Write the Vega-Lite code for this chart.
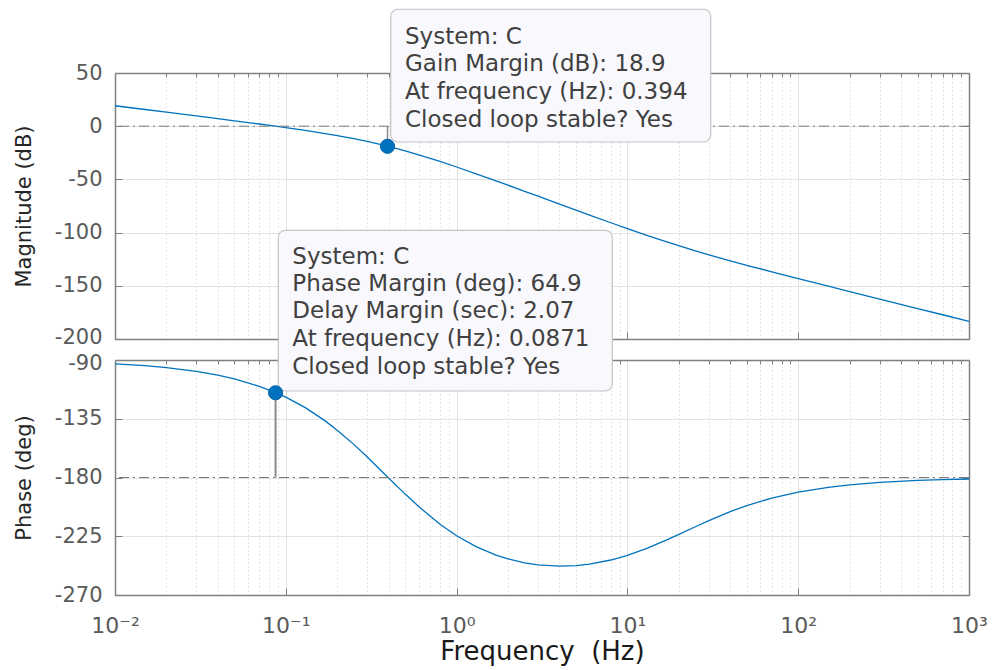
{
  "$schema": "https://vega.github.io/schema/vega-lite/v6.json",
  "background": "white",
  "padding": {"left": 13, "top": 8, "right": 5, "bottom": 5},
  "bounds": "flush",
  "spacing": 21,
  "config": {
    "view": {"stroke": null},
    "font": "DejaVu Sans",
    "axis": {
      "labelFont": "DejaVu Sans",
      "titleFont": "DejaVu Sans",
      "labelColor": "#5a5a5a",
      "titleColor": "#262626",
      "titleFontWeight": "normal",
      "domainColor": "#808080",
      "domainWidth": 1.5,
      "tickColor": "#808080",
      "tickWidth": 1,
      "gridColor": "#e2e2e2",
      "gridWidth": 1,
      "labelOverlap": false,
      "labelFlush": false
    }
  },
  "datasets": {
    "bode": [
      {"f": 0.01, "mag": 19.22, "phase": -92.91},
      {"f": 0.015, "mag": 15.69, "phase": -94.36},
      {"f": 0.02, "mag": 13.18, "phase": -95.82},
      {"f": 0.03, "mag": 9.63, "phase": -98.71},
      {"f": 0.04, "mag": 7.09, "phase": -101.6},
      {"f": 0.05, "mag": 5.1, "phase": -104.47},
      {"f": 0.07, "mag": 2.05, "phase": -110.16},
      {"f": 0.0871, "mag": 0.0, "phase": -115.0},
      {"f": 0.1, "mag": -1.33, "phase": -118.48},
      {"f": 0.13, "mag": -3.97, "phase": -126.51},
      {"f": 0.17, "mag": -6.9, "phase": -136.63},
      {"f": 0.2, "mag": -8.83, "phase": -143.74},
      {"f": 0.25, "mag": -11.73, "phase": -154.63},
      {"f": 0.3, "mag": -14.36, "phase": -164.3},
      {"f": 0.394, "mag": -18.8, "phase": -179.6},
      {"f": 0.5, "mag": -23.2, "phase": -192.71},
      {"f": 0.6, "mag": -26.88, "phase": -202.28},
      {"f": 0.8, "mag": -33.16, "phase": -215.79},
      {"f": 1, "mag": -38.35, "phase": -224.62},
      {"f": 1.3, "mag": -44.7, "phase": -232.99},
      {"f": 1.7, "mag": -51.38, "phase": -239.44},
      {"f": 2, "mag": -55.48, "phase": -242.39},
      {"f": 2.5, "mag": -61.16, "phase": -245.35},
      {"f": 3, "mag": -65.81, "phase": -246.9},
      {"f": 4, "mag": -73.18, "phase": -247.87},
      {"f": 5, "mag": -78.88, "phase": -247.44},
      {"f": 6, "mag": -83.51, "phase": -246.32},
      {"f": 8, "mag": -90.73, "phase": -243.2},
      {"f": 10, "mag": -96.23, "phase": -239.64},
      {"f": 13, "mag": -102.52, "phase": -234.31},
      {"f": 17, "mag": -108.71, "phase": -227.84},
      {"f": 20, "mag": -112.32, "phase": -223.61},
      {"f": 25, "mag": -117.08, "phase": -217.7},
      {"f": 30, "mag": -120.82, "phase": -212.98},
      {"f": 40, "mag": -126.47, "phase": -206.13},
      {"f": 50, "mag": -130.69, "phase": -201.5},
      {"f": 70, "mag": -136.85, "phase": -195.76},
      {"f": 100, "mag": -143.23, "phase": -191.19},
      {"f": 150, "mag": -150.37, "phase": -187.52},
      {"f": 200, "mag": -155.41, "phase": -185.66},
      {"f": 300, "mag": -162.47, "phase": -183.78},
      {"f": 500, "mag": -171.36, "phase": -182.27},
      {"f": 700, "mag": -177.21, "phase": -181.63},
      {"f": 1000, "mag": -183.41, "phase": -181.14}
    ],
    "gm": [{"f": 0.394, "mag": -18.9, "ref": 0}],
    "pm": [{"f": 0.0871, "phase": -115.1, "ref": -180}],
    "box1": [{"f1": 0.4113, "f2": 30.74, "top": 109.9, "bottom": -14.85}],
    "box2": [{"f1": 0.09039, "f2": 8.157, "top": 9.34, "bottom": -113.74}],
    "text1": [
      {"f": 0.4986, "y": 77.54, "label": "System: C"},
      {"f": 0.4986, "y": 51.88, "label": "Gain Margin (dB): 18.9"},
      {"f": 0.4986, "y": 25.28, "label": "At frequency (Hz): 0.394"},
      {"f": 0.4986, "y": -0.75, "label": "Closed loop stable? Yes"}
    ],
    "text2": [
      {"f": 0.10916, "y": -16.24, "label": "System: C"},
      {"f": 0.10916, "y": -37.15, "label": "Phase Margin (deg): 64.9"},
      {"f": 0.10916, "y": -58.06, "label": "Delay Margin (sec): 2.07"},
      {"f": 0.10916, "y": -79.28, "label": "At frequency (Hz): 0.0871"},
      {"f": 0.10916, "y": -100.95, "label": "Closed loop stable? Yes"}
    ],
    "zero": [{"v": 0}],
    "m180": [{"v": -180}]
  },
  "vconcat": [
    {
      "width": 854,
      "height": 266,
      "resolve": {"axis": {"x": "independent", "y": "independent"}},
      "layer": [
        {
          "data": {"name": "bode"},
          "mark": {"type": "line", "color": "#0072BD", "strokeWidth": 1.3},
          "encoding": {
            "x": {"field": "f", "type": "quantitative", "scale": {"type": "log", "domain": [0.01, 1000], "nice": false},
              "axis": {"orient": "bottom", "values": [0.01, 0.1, 1, 10, 100, 1000], "labels": false, "title": null, "grid": true, "tickSize": -7}},
            "y": {"field": "mag", "type": "quantitative", "scale": {"domain": [-200, 50], "nice": false, "zero": false},
              "axis": {"orient": "left", "values": [-200, -150, -100, -50, 0, 50], "labelExpr": "'' + datum.value", "title": "Magnitude (dB)", "titleFontSize": 21, "titlePadding": 20, "labelFontSize": 21, "labelPadding": 20, "grid": true, "tickSize": -7,
                "labelOffset": {"condition": {"test": "datum.value == -200", "value": -2}, "value": 0}}}
          }
        },
        {
          "data": {"name": "zero"},
          "mark": {"type": "rule", "color": "#7a7a7a", "strokeWidth": 1, "strokeDash": [10, 4, 2, 4]},
          "encoding": {
            "y": {"field": "v", "type": "quantitative",
              "axis": {"orient": "right", "values": [-200, -150, -100, -50, 0, 50], "labels": false, "title": null, "grid": false, "tickSize": -7}}
          }
        },
        {
          "data": {"name": "gm"},
          "mark": {"type": "rule", "color": "#8c8c8c", "strokeWidth": 1.5},
          "encoding": {
            "x": {"field": "f", "type": "quantitative",
              "axis": {"orient": "top", "values": [0.02, 0.03, 0.04, 0.05, 0.06, 0.07, 0.08, 0.09, 0.2, 0.3, 0.4, 0.5, 0.6, 0.7, 0.8, 0.9, 2, 3, 4, 5, 6, 7, 8, 9, 20, 30, 40, 50, 60, 70, 80, 90, 200, 300, 400, 500, 600, 700, 800, 900], "labels": false, "title": null, "grid": true, "gridDash": [1, 3], "gridColor": "#cccccc", "tickSize": -4}},
            "y": {"field": "mag", "type": "quantitative", "axis": null},
            "y2": {"field": "ref"}
          }
        },
        {
          "data": {"name": "box1"},
          "mark": {"type": "rect", "fill": "#f9f9fd", "stroke": "#c4c4c4", "strokeWidth": 1.2, "cornerRadius": 7},
          "encoding": {
            "x": {"field": "f1", "type": "quantitative", "axis": null},
            "x2": {"field": "f2"},
            "y": {"field": "top", "type": "quantitative", "axis": null},
            "y2": {"field": "bottom"}
          }
        },
        {
          "data": {"name": "text1"},
          "mark": {"type": "text", "align": "left", "baseline": "alphabetic", "fontSize": 23, "color": "#404040", "font": "DejaVu Sans"},
          "encoding": {
            "x": {"field": "f", "type": "quantitative", "axis": null},
            "y": {"field": "y", "type": "quantitative", "axis": null},
            "text": {"field": "label"}
          }
        },
        {
          "data": {"name": "gm"},
          "mark": {"type": "point", "filled": true, "size": 200, "color": "#0072BD", "opacity": 1, "stroke": "#0062a8", "strokeWidth": 1},
          "encoding": {
            "x": {"field": "f", "type": "quantitative", "axis": null},
            "y": {"field": "mag", "type": "quantitative", "axis": null}
          }
        }
      ]
    },
    {
      "width": 854,
      "height": 235,
      "resolve": {"axis": {"x": "independent", "y": "independent"}},
      "layer": [
        {
          "data": {"name": "bode"},
          "mark": {"type": "line", "color": "#0072BD", "strokeWidth": 1.3},
          "encoding": {
            "x": {"field": "f", "type": "quantitative", "scale": {"type": "log", "domain": [0.01, 1000], "nice": false},
              "axis": {"orient": "bottom", "values": [0.01, 0.1, 1, 10, 100, 1000], "title": "Frequency\u00a0 (Hz)", "titleFontSize": 26, "titleColor": "#1a1a1a", "titlePadding": 2, "labelFontSize": 22, "labelPadding": 27, "grid": true, "tickSize": -7,
                "labelExpr": "datum.value < 0.05 ? '10⁻²' : datum.value < 0.5 ? '10⁻¹' : datum.value < 5 ? '10⁰' : datum.value < 50 ? '10¹' : datum.value < 500 ? '10²' : '10³'"}},
            "y": {"field": "phase", "type": "quantitative", "scale": {"domain": [-270, -90], "nice": false, "zero": false},
              "axis": {"orient": "left", "values": [-270, -225, -180, -135, -90], "labelExpr": "'' + datum.value", "title": "Phase (deg)", "titleFontSize": 21, "titlePadding": 20, "labelFontSize": 21, "labelPadding": 20, "grid": true, "tickSize": -7,
                "labelOffset": {"condition": {"test": "datum.value == -90", "value": 3}, "value": 0}}}
          }
        },
        {
          "data": {"name": "m180"},
          "mark": {"type": "rule", "color": "#7a7a7a", "strokeWidth": 1, "strokeDash": [10, 4, 2, 4]},
          "encoding": {
            "y": {"field": "v", "type": "quantitative",
              "axis": {"orient": "right", "values": [-270, -225, -180, -135, -90], "labels": false, "title": null, "grid": false, "tickSize": -7}}
          }
        },
        {
          "data": {"name": "pm"},
          "mark": {"type": "rule", "color": "#8c8c8c", "strokeWidth": 2},
          "encoding": {
            "x": {"field": "f", "type": "quantitative",
              "axis": {"orient": "top", "values": [0.02, 0.03, 0.04, 0.05, 0.06, 0.07, 0.08, 0.09, 0.2, 0.3, 0.4, 0.5, 0.6, 0.7, 0.8, 0.9, 2, 3, 4, 5, 6, 7, 8, 9, 20, 30, 40, 50, 60, 70, 80, 90, 200, 300, 400, 500, 600, 700, 800, 900], "labels": false, "title": null, "grid": true, "gridDash": [1, 3], "gridColor": "#cccccc", "tickSize": -4}},
            "y": {"field": "phase", "type": "quantitative", "axis": null},
            "y2": {"field": "ref"}
          }
        },
        {
          "data": {"name": "box2"},
          "mark": {"type": "rect", "fill": "#f9f9fd", "stroke": "#c4c4c4", "strokeWidth": 1.2, "cornerRadius": 7},
          "encoding": {
            "x": {"field": "f1", "type": "quantitative", "axis": null},
            "x2": {"field": "f2"},
            "y": {"field": "top", "type": "quantitative", "axis": null},
            "y2": {"field": "bottom"}
          }
        },
        {
          "data": {"name": "text2"},
          "mark": {"type": "text", "align": "left", "baseline": "alphabetic", "fontSize": 23, "color": "#404040", "font": "DejaVu Sans"},
          "encoding": {
            "x": {"field": "f", "type": "quantitative", "axis": null},
            "y": {"field": "y", "type": "quantitative", "axis": null},
            "text": {"field": "label"}
          }
        },
        {
          "data": {"name": "pm"},
          "mark": {"type": "point", "filled": true, "size": 200, "color": "#0072BD", "opacity": 1, "stroke": "#0062a8", "strokeWidth": 1},
          "encoding": {
            "x": {"field": "f", "type": "quantitative", "axis": null},
            "y": {"field": "phase", "type": "quantitative", "axis": null}
          }
        }
      ]
    }
  ]
}
